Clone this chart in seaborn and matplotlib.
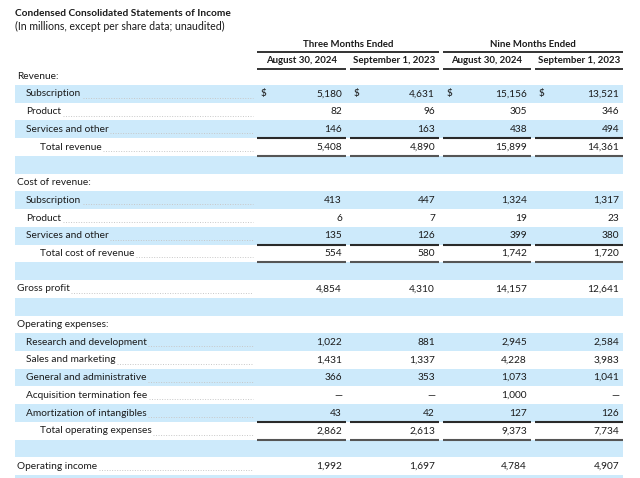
import matplotlib
matplotlib.use("Agg")
import matplotlib.pyplot as plt
import seaborn as sns

# table content
title = "Condensed Consolidated Statements of Income"
subtitle = "(In millions, except per share data; unaudited)"
group_headers = ["Three Months Ended", "Nine Months Ended"]
col_headers = ["August 30, 2024", "September 1, 2023", "August 30, 2024", "September 1, 2023"]

# label, indent level (0 section, 1 item, 2 total, -1 blank band)
row_labels = ["Revenue:", "Subscription", "Product", "Services and other", "Total revenue", "",
              "Cost of revenue:", "Subscription", "Product", "Services and other", "Total cost of revenue", "",
              "Gross profit", "",
              "Operating expenses:", "Research and development", "Sales and marketing",
              "General and administrative", "Acquisition termination fee", "Amortization of intangibles",
              "Total operating expenses", "",
              "Operating income", ""]
row_indent = [0, 1, 1, 1, 2, -1,
              0, 1, 1, 1, 2, -1,
              0, -1,
              0, 1, 1, 1, 1, 1, 2, -1,
              0, -1]
has_leader = [False, True, True, True, True, False,
              False, True, True, True, True, False,
              True, False,
              False, True, True, True, True, True, True, False,
              True, False]

q3_2024 = [None, "5,180", "82", "146", "5,408", None,
           None, "413", "6", "135", "554", None,
           "4,854", None,
           None, "1,022", "1,431", "366", "—", "43", "2,862", None,
           "1,992", None]
q3_2023 = [None, "4,631", "96", "163", "4,890", None,
           None, "447", "7", "126", "580", None,
           "4,310", None,
           None, "881", "1,337", "353", "—", "42", "2,613", None,
           "1,697", None]
ytd_2024 = [None, "15,156", "305", "438", "15,899", None,
            None, "1,324", "19", "399", "1,742", None,
            "14,157", None,
            None, "2,945", "4,228", "1,073", "1,000", "127", "9,373", None,
            "4,784", None]
ytd_2023 = [None, "13,521", "346", "494", "14,361", None,
            None, "1,317", "23", "380", "1,720", None,
            "12,641", None,
            None, "2,584", "3,983", "1,041", "—", "126", "7,734", None,
            "4,907", None]
dollar_rows = [1]
underline_rows = [3, 9, 19]   # line below these rows (subtotal above)
total_rows = [4, 10, 20]      # line below these rows

columns = [q3_2024, q3_2023, ytd_2024, ytd_2023]

sns.set_theme(style="white")
plt.rcParams["font.family"] = ["Lato", "DejaVu Sans"]

W, H = 640, 478
fig = plt.figure(figsize=(6.4, 4.78), dpi=100)
ax = fig.add_axes([0, 0, 1, 1])
ax.set_xlim(0, W)
ax.set_ylim(H, 0)
ax.axis("off")

band = "#cdeafb"
ink = "#1a1a1a"
fs = 7.25
fs_head = 6.9
row_top = 67.3
row_h = 17.73
left, right = 15, 623
col_spans = [(257, 346), (350, 439), (443, 531), (535, 623)]
leader_end = 253
indent_x = {0: 17, 1: 26, 2: 40}

ax.text(15, 13.5, title, fontsize=7.3, fontweight="bold", color=ink, va="center")
ax.text(15, 26, subtitle, fontsize=7.6, color=ink, va="center")

# group headers
for g, name in enumerate(group_headers):
    x0 = col_spans[2 * g][0]
    x1 = col_spans[2 * g + 1][1]
    ax.text((x0 + x1) / 2, 44, name, fontsize=fs_head, fontweight="bold", color=ink, ha="center", va="center")
    ax.plot([x0, x1], [51.5, 51.5], color="#333333", lw=1.4, solid_capstyle="butt")
for c, name in enumerate(col_headers):
    x0, x1 = col_spans[c]
    ax.text((x0 + x1) / 2, 60.5, name, fontsize=fs_head, fontweight="bold", color=ink, ha="center", va="center")
    ax.plot([x0, x1], [68.5, 68.5], color="#333333", lw=1.4, solid_capstyle="butt")

# bands
for i in range(len(row_labels)):
    if i % 2 == 1:
        top = row_top + i * row_h
        ax.fill_between([left, right], top, min(top + row_h, H), color=band, lw=0)

fig.canvas.draw()
renderer = fig.canvas.get_renderer()
inv = ax.transData.inverted()

for i, label in enumerate(row_labels):
    yc = row_top + (i + 0.5) * row_h
    if row_indent[i] < 0:
        continue
    t = ax.text(indent_x[row_indent[i]], yc, label, fontsize=fs, color=ink, va="center")
    if has_leader[i]:
        bb = t.get_window_extent(renderer)
        x_end = inv.transform((bb.x1, bb.y0))[0]
        ax.plot([x_end + 1.5, leader_end], [yc + 4, yc + 4], color="#c8c8c8", lw=0.7,
                linestyle=(0, (1, 1.6)))
    for c, vals in enumerate(columns):
        v = vals[i]
        if v is None:
            continue
        x0, x1 = col_spans[c]
        ax.text(x1 - 4, yc, v, fontsize=fs, color=ink, ha="right", va="center")
        if i in dollar_rows:
            ax.text(x0 + 4, yc, "$", fontsize=fs, color=ink, ha="left", va="center")

for i in underline_rows + total_rows:
    y = row_top + (i + 1) * row_h
    for x0, x1 in col_spans:
        ax.plot([x0, x1], [y, y], color="#2a2a2a" if i in underline_rows else "#555555",
                lw=1.5, solid_capstyle="butt")

fig.savefig("out.png", dpi=100)
